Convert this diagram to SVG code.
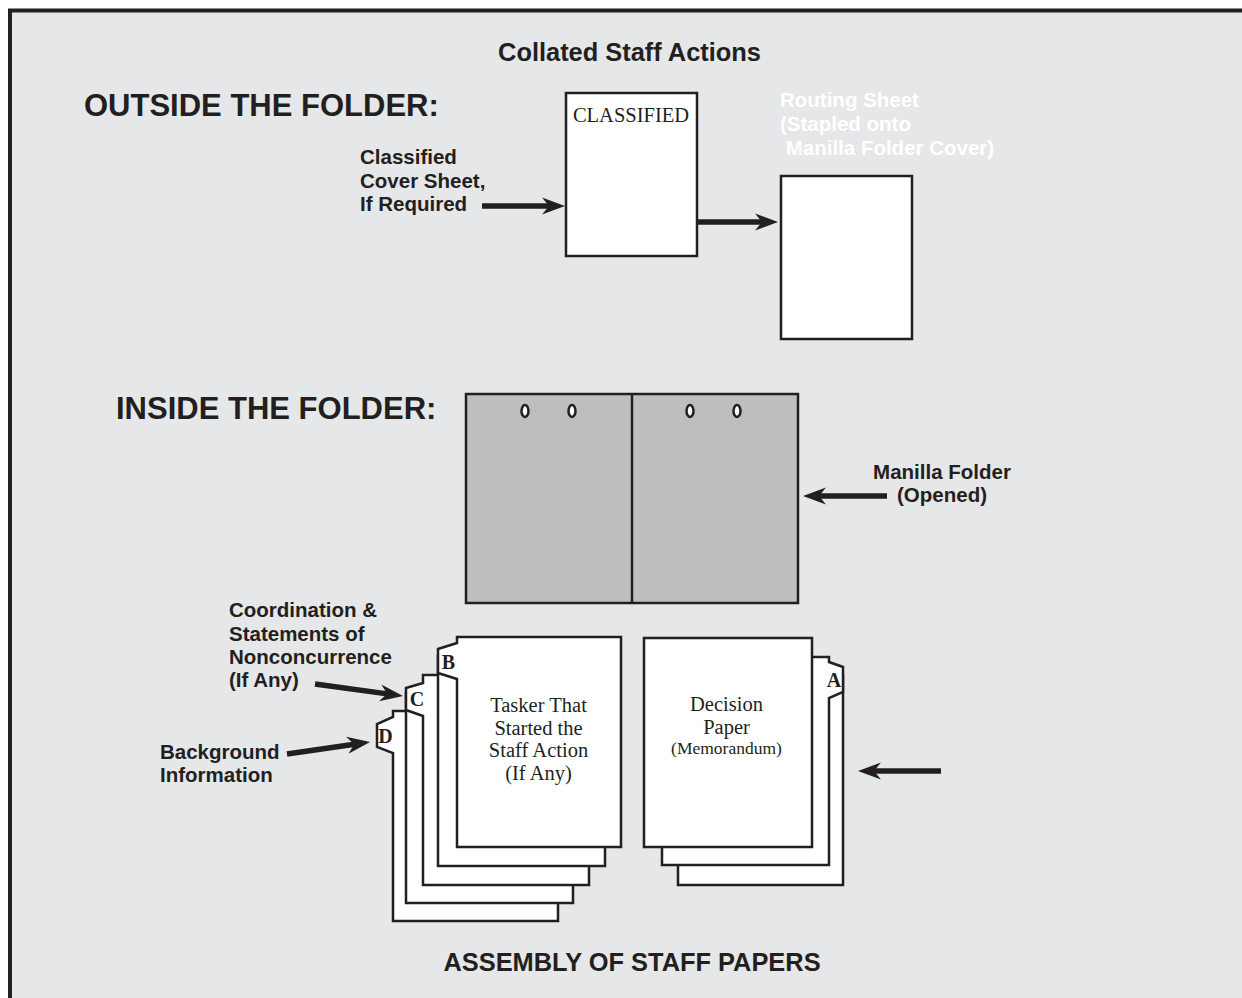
<svg xmlns="http://www.w3.org/2000/svg" width="1242" height="998" viewBox="0 0 1242 998">
<style>
.lbl{font-family:"Liberation Sans",Arial,sans-serif;font-weight:bold;font-size:20.5px;fill:#231f20}
.big{font-family:"Liberation Sans",Arial,sans-serif;font-weight:bold;font-size:31px;fill:#231f20}
.ttl{font-family:"Liberation Sans",Arial,sans-serif;font-weight:bold;font-size:25.4px;fill:#231f20}
.wht{font-family:"Liberation Sans",Arial,sans-serif;font-weight:bold;font-size:20.5px;fill:#ffffff}
.ser{font-family:"Liberation Serif","Times New Roman",serif;font-size:20.5px;fill:#231f20}
.tab{font-family:"Liberation Serif","Times New Roman",serif;font-weight:bold;font-size:20px;fill:#231f20;text-anchor:middle}
.sheet{fill:#ffffff;stroke:#231f20;stroke-width:2.5;stroke-linejoin:miter}
.arr{stroke:#231f20;stroke-width:5.5;fill:none;marker-end:url(#ah)}
.hole{fill:#ffffff;stroke:#231f20;stroke-width:2.5}
</style>
<defs>
<marker id="ah" markerUnits="userSpaceOnUse" markerWidth="30" markerHeight="20" refX="9" refY="8.5" orient="auto" overflow="visible">
<path d="M0,0 L23,8.5 L0,17 L7,8.5 Z" fill="#231f20"/>
</marker>
</defs>
<rect x="0" y="0" width="1242" height="998" fill="#ffffff"/>
<rect id="frame" x="10" y="10.5" width="1245" height="1000" fill="#e6e7e8" stroke="#231f20" stroke-width="4"/>

<text class="ttl" x="629.5" y="61" text-anchor="middle">Collated Staff Actions</text>
<text class="big" x="84" y="116">OUTSIDE THE FOLDER:</text>
<text class="big" x="116" y="419">INSIDE THE FOLDER:</text>
<text class="ttl" x="632" y="971" text-anchor="middle">ASSEMBLY OF STAFF PAPERS</text>

<g id="classified-sheet">
<rect class="sheet" x="566" y="93" width="131" height="163"/>
<text class="ser" x="631" y="122" text-anchor="middle">CLASSIFIED</text>
</g>
<g id="classified-label">
<text class="lbl" x="360" y="164">Classified</text>
<text class="lbl" x="360" y="187.5">Cover Sheet,</text>
<text class="lbl" x="360" y="211">If Required</text>
</g>
<g id="routing-sheet">
<text class="wht" x="780" y="107">Routing Sheet</text>
<text class="wht" x="780" y="131">(Stapled onto</text>
<text class="wht" x="780" y="155" xml:space="preserve"> Manilla Folder Cover)</text>
<rect class="sheet" x="781" y="176" width="131" height="163"/>
</g>

<g id="folder">
<rect x="466" y="394" width="332" height="209" fill="#bcbec0" stroke="#231f20" stroke-width="2.5"/>
<line x1="632" y1="394" x2="632" y2="603" stroke="#231f20" stroke-width="2.5"/>
<ellipse class="hole" cx="525" cy="411" rx="3.5" ry="6"/>
<ellipse class="hole" cx="572" cy="411" rx="3.5" ry="6"/>
<ellipse class="hole" cx="690" cy="411" rx="3.5" ry="6"/>
<ellipse class="hole" cx="737" cy="411" rx="3.5" ry="6"/>
</g>
<g id="folder-label">
<text class="lbl" x="942" y="479" text-anchor="middle">Manilla Folder</text>
<text class="lbl" x="942" y="502" text-anchor="middle">(Opened)</text>
</g>

<g id="left-stack">
<path class="sheet" d="M393,711 L558,711 L558,921 L393,921 L393,753 L377,747 L377,724 L393,717 Z"/>
<text class="tab" x="385.5" y="743">D</text>
<rect class="sheet" x="406" y="693" width="167" height="210"/>
<path class="sheet" d="M423,675 L589,675 L589,885 L423,885 L423,716 L406,710 L406,688 L423,683 Z"/>
<text class="tab" x="417" y="706">C</text>
<rect class="sheet" x="438" y="656" width="167" height="210"/>
<path class="sheet" d="M457,637 L621,637 L621,847 L457,847 L457,679 L438,673 L438,649 L457,643 Z"/>
<text class="tab" x="448.5" y="669">B</text>
<text class="ser" x="538.5" y="712" text-anchor="middle">Tasker That</text>
<text class="ser" x="538.5" y="735" text-anchor="middle">Started the</text>
<text class="ser" x="538.5" y="757" text-anchor="middle">Staff Action</text>
<text class="ser" x="538.5" y="780" text-anchor="middle">(If Any)</text>
</g>

<g id="right-stack">
<rect class="sheet" x="678" y="676" width="165" height="209"/>
<path class="sheet" d="M662,657 L829,657 L829,662 L843,667 L843,692 L829,698 L829,865 L662,865 Z"/>
<text class="tab" x="834" y="687">A</text>
<rect class="sheet" x="644" y="638" width="168" height="209"/>
<text class="ser" x="726.5" y="711" text-anchor="middle">Decision</text>
<text class="ser" x="726.5" y="734" text-anchor="middle">Paper</text>
<text class="ser" x="726.5" y="754" text-anchor="middle" style="font-size:17.5px">(Memorandum)</text>
</g>

<g id="coord-label">
<text class="lbl" x="229" y="617">Coordination &amp;</text>
<text class="lbl" x="229" y="640.5">Statements of</text>
<text class="lbl" x="229" y="664">Nonconcurrence</text>
<text class="lbl" x="229" y="687">(If Any)</text>
</g>
<g id="background-label">
<text class="lbl" x="160" y="759">Background</text>
<text class="lbl" x="160" y="782">Information</text>
</g>

<g id="connectors">
<line class="arr" x1="482" y1="206" x2="551" y2="206"/>
<line class="arr" x1="698" y1="222" x2="764" y2="222"/>
<line class="arr" x1="887" y1="496" x2="817" y2="496"/>
<line class="arr" x1="941" y1="771" x2="872" y2="771"/>
<line class="arr" x1="315" y1="684" x2="389.1" y2="694.1"/>
<line class="arr" x1="287" y1="754" x2="356.2" y2="744"/>
</g>
</svg>
